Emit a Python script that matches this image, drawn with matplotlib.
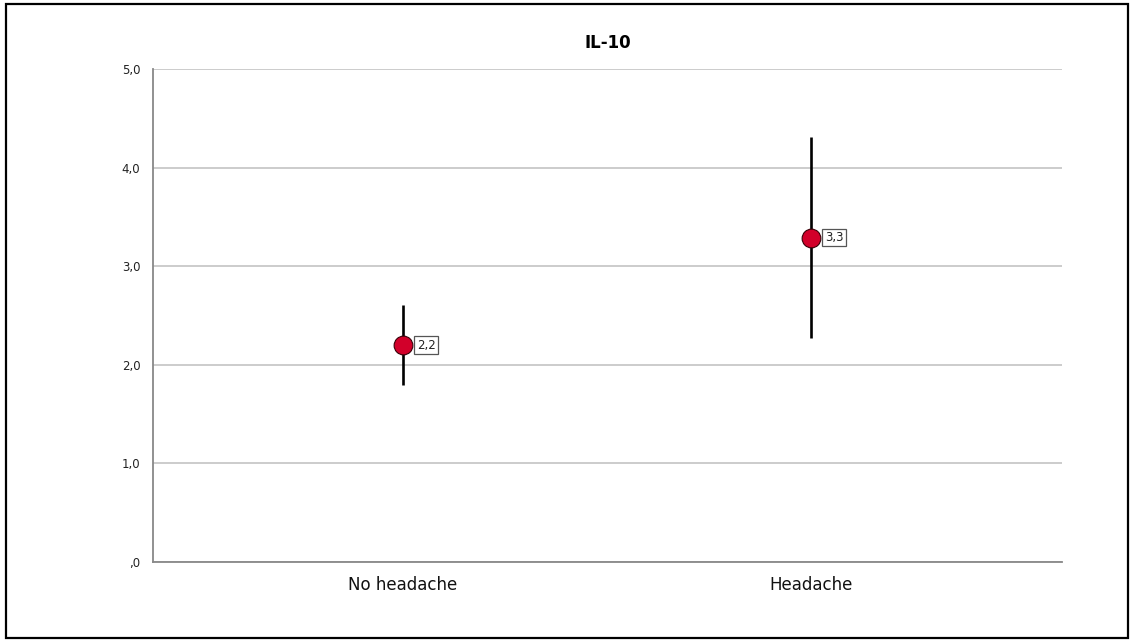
import matplotlib.pyplot as plt
from matplotlib.patches import Rectangle

# IL-10 mean with confidence interval per group
grupos = ["No headache", "Headache"]
medias = [2.20, 3.29]
ic_inferior = [1.80, 2.27]
ic_superior = [2.61, 4.31]
etiquetas = ["2,2", "3,3"]
yticks = [0, 1, 2, 3, 4, 5]
ytick_labels = [",0", "1,0", "2,0", "3,0", "4,0", "5,0"]

fig = plt.figure(figsize=(11.34, 6.42), dpi=100)
ax = fig.add_axes([0.1349, 0.1246, 0.8016, 0.7679])

x = list(range(len(grupos)))
for xi, m, lo, hi, txt in zip(x, medias, ic_inferior, ic_superior, etiquetas):
    ax.plot([xi, xi], [lo, hi], color="black", lw=1.9, solid_capstyle="butt", zorder=3)
    ax.plot(xi, m, "o", ms=13.5, mfc="#d2002a", mec="#3a0008", mew=0.8, zorder=4)
    ax.annotate(txt, (xi, m), xytext=(10, 0), textcoords="offset points",
                ha="left", va="center", fontsize=8.5, color="#222222",
                bbox=dict(boxstyle="square,pad=0.2", fc="white", ec="#555555", lw=0.9),
                zorder=5)

ax.set_xlim(-0.612, 1.615)
ax.set_ylim(0, 5)
ax.set_xticks(x)
ax.set_xticklabels(grupos, fontsize=12, color="#111111")
ax.set_yticks(yticks)
ax.set_yticklabels(ytick_labels, fontsize=8.5, color="#222222")
ax.tick_params(length=0, pad=9)
ax.tick_params(axis="x", pad=10)

ax.grid(axis="y", color="#c8c8c8", lw=1.3)
ax.set_axisbelow(True)
for s in ["top", "right"]:
    ax.spines[s].set_visible(False)
for s in ["left", "bottom"]:
    ax.spines[s].set_color("#888888")
    ax.spines[s].set_linewidth(1.3)

ax.set_title("IL-10", fontsize=12, fontweight="bold", pad=15)

# marco exterior
fig.patches.append(Rectangle((0.005, 0.006), 0.99, 0.988, transform=fig.transFigure,
                             fill=False, ec="black", lw=1.6))

fig.savefig("out.png", dpi=100)
